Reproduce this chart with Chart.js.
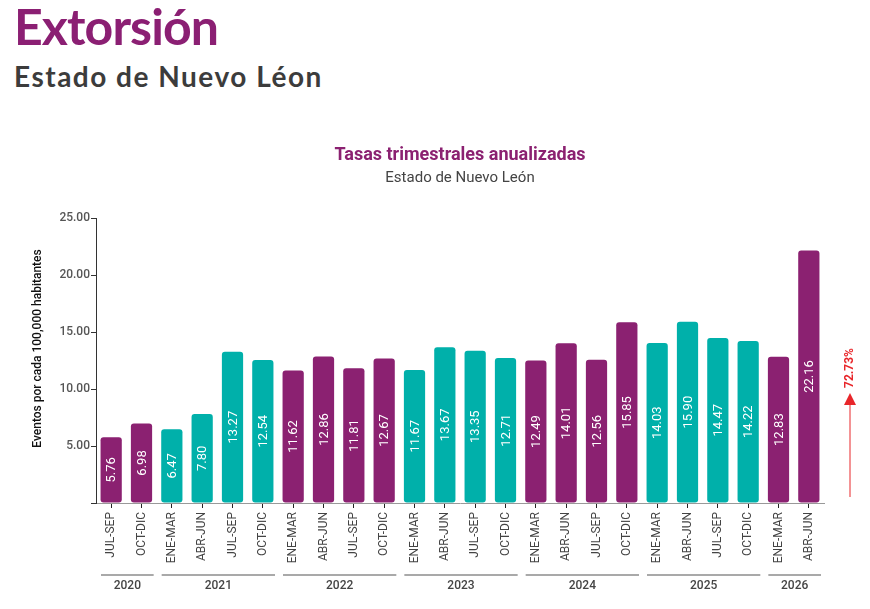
<!DOCTYPE html>
<html>
<head>
<meta charset="utf-8">
<script src="https://cdn.jsdelivr.net/npm/chart.js@4.4.1/dist/chart.umd.min.js"></script>
<style>
  html,body{margin:0;padding:0;background:#fff;width:870px;height:609px;overflow:hidden;}
  #title{position:absolute;left:14px;top:-4px;font-family:Lato,'DejaVu Sans',sans-serif;font-weight:bold;font-size:50px;color:#8b1f73;letter-spacing:-0.9px;}
  #subtitle{position:absolute;left:14px;top:59px;font-family:Lato,'DejaVu Sans',sans-serif;font-weight:bold;font-size:28px;color:#3c3c3c;letter-spacing:1.5px;}
  #wrap{position:absolute;left:0;top:130px;width:870px;height:479px;}
</style>
</head>
<body>
<div id="title">Extorsión</div>
<div id="subtitle">Estado de Nuevo Léon</div>
<div id="wrap"><canvas id="c"></canvas></div>
<script>
'use strict';

// ── DATA ───────────────────────────────────────────────
const quarters = ['JUL-SEP','OCT-DIC',
  'ENE-MAR','ABR-JUN','JUL-SEP','OCT-DIC',
  'ENE-MAR','ABR-JUN','JUL-SEP','OCT-DIC',
  'ENE-MAR','ABR-JUN','JUL-SEP','OCT-DIC',
  'ENE-MAR','ABR-JUN','JUL-SEP','OCT-DIC',
  'ENE-MAR','ABR-JUN','JUL-SEP','OCT-DIC',
  'ENE-MAR','ABR-JUN'];
const rates = [5.76, 6.98,
  6.47, 7.80, 13.27, 12.54,
  11.62, 12.86, 11.81, 12.67,
  11.67, 13.67, 13.35, 12.71,
  12.49, 14.01, 12.56, 15.85,
  14.03, 15.90, 14.47, 14.22,
  12.83, 22.16];
const years = ['2020','2021','2022','2023','2024','2025','2026'];
const quartersPerYear = [2, 4, 4, 4, 4, 4, 2];
const yTicks = [0, 5, 10, 15, 20, 25];
const changeLabel = '72.73%';

const PURPLE = '#8b2171';
const TEAL = '#00b0aa';
const FONT = "Roboto, 'Noto Sans', sans-serif";

// color by year (alternating)
const barColors = [];
quartersPerYear.forEach((n, yi) => {
  for (let i = 0; i < n; i++) barColors.push(yi % 2 === 0 ? PURPLE : TEAL);
});

// ── PLUGINS ────────────────────────────────────────────
// title + subtitle centered over the plot area
const headings = {
  id: 'headings',
  afterDraw(chart){
    const {ctx, chartArea} = chart;
    const cx = (chartArea.left + chartArea.right) / 2;
    ctx.save();
    ctx.textAlign = 'center';
    ctx.textBaseline = 'middle';
    ctx.fillStyle = PURPLE;
    ctx.font = `bold 18px ${FONT}`;
    ctx.fillText('Tasas trimestrales anualizadas', cx, 25);
    ctx.fillStyle = '#444';
    ctx.font = `15px ${FONT}`;
    ctx.fillText('Estado de Nuevo León', cx, 48);
    ctx.restore();
  }
};

const yTitle = {
  id: 'yTitle',
  afterDraw(chart){
    const {ctx, chartArea} = chart;
    ctx.save();
    ctx.translate(38, (chartArea.top + chartArea.bottom) / 2 - 12);
    ctx.rotate(-Math.PI / 2);
    ctx.fillStyle = '#111';
    ctx.font = `500 12px ${FONT}`;
    ctx.textAlign = 'center';
    ctx.textBaseline = 'middle';
    ctx.fillText('Eventos por cada 100,000 habitantes', 0, 0);
    ctx.restore();
  }
};

const valueLabels = {
  id: 'valueLabels',
  afterDatasetsDraw(chart){
    const {ctx} = chart;
    const meta = chart.getDatasetMeta(0);
    ctx.save();
    ctx.fillStyle = '#fff';
    ctx.font = `13px ${FONT}`;
    ctx.textAlign = 'center';
    ctx.textBaseline = 'middle';
    meta.data.forEach((bar, i) => {
      const mid = (bar.y + bar.base) / 2;
      ctx.save();
      ctx.translate(bar.x + 1, mid);
      ctx.rotate(-Math.PI / 2);
      ctx.fillText(rates[i].toFixed(2), 0, 0);
      ctx.restore();
    });
    ctx.restore();
  }
};

const yearGroups = {
  id: 'yearGroups',
  afterDraw(chart){
    const {ctx, scales:{x}} = chart;
    const half = (x.getPixelForValue(1) - x.getPixelForValue(0)) / 2;
    const lineY = chart.chartArea.bottom + 72;
    ctx.save();
    ctx.strokeStyle = '#555';
    ctx.lineWidth = 1.2;
    ctx.fillStyle = '#444';
    ctx.font = `500 12px ${FONT}`;
    ctx.textAlign = 'center';
    ctx.textBaseline = 'middle';
    let start = 0;
    years.forEach((yr, yi) => {
      const end = start + quartersPerYear[yi] - 1;
      const x0 = x.getPixelForValue(start) - half + 5;
      const x1 = x.getPixelForValue(end) + half - 3;
      ctx.beginPath();
      ctx.moveTo(x0, lineY);
      ctx.lineTo(x1, lineY);
      ctx.stroke();
      ctx.fillText(yr, (x0 + x1) / 2, lineY + 11);
      start = end + 1;
    });
    ctx.restore();
  }
};

const changeArrow = {
  id: 'changeArrow',
  afterDraw(chart){
    const {ctx, chartArea} = chart;
    const ax = chartArea.right + 26;
    const yBottom = chartArea.bottom - 6;
    const yTop = chartArea.bottom - 110;
    ctx.save();
    ctx.strokeStyle = '#e8262a';
    ctx.fillStyle = '#e8262a';
    ctx.lineWidth = 1;
    ctx.beginPath();
    ctx.moveTo(ax, yBottom);
    ctx.lineTo(ax, yTop + 10);
    ctx.stroke();
    ctx.beginPath();
    ctx.moveTo(ax, yTop);
    ctx.lineTo(ax - 6, yTop + 12);
    ctx.lineTo(ax + 6, yTop + 12);
    ctx.closePath();
    ctx.fill();
    ctx.translate(ax, yTop - 25);
    ctx.rotate(-Math.PI / 2);
    ctx.font = `bold 12px ${FONT}`;
    ctx.textAlign = 'center';
    ctx.textBaseline = 'middle';
    ctx.fillText(changeLabel, 0, 0);
    ctx.restore();
  }
};

// ── CHART ──────────────────────────────────────────────
new Chart(document.getElementById('c').getContext('2d'), {
  type: 'bar',
  data: {
    labels: quarters,
    datasets: [{
      data: rates,
      backgroundColor: barColors,
      borderRadius: 3,
      borderSkipped: false,
      categoryPercentage: 1,
      barPercentage: 0.7
    }]
  },
  options: {
    responsive: true,
    maintainAspectRatio: false,
    animation: false,
    layout: { padding: { left: 0, right: 46, top: 88, bottom: 36 } },
    plugins: {
      legend: { display: false },
      tooltip: { enabled: false }
    },
    scales: {
      x: {
        offset: true,
        grid: { offset: false, drawOnChartArea: false, drawTicks: true, tickLength: 5, color: '#222' },
        border: { display: true, color: '#999' },
        ticks: {
          color: '#444', font: { family: FONT, size: 12 },
          maxRotation: 90, minRotation: 90, autoSkip: false, padding: 4
        },
        afterFit(scale){ scale.height = 70; }
      },
      y: {
        min: 0, max: 25,
        afterBuildTicks(scale){ scale.ticks = yTicks.map(v => ({ value: v })); },
        grid: { drawOnChartArea: false, drawTicks: true, tickLength: 5, color: '#333' },
        border: { display: true, color: '#333' },
        ticks: {
          color: '#555', font: { family: FONT, size: 12, weight: '500' }, padding: 1,
          callback: v => v === 0 ? '' : Number(v).toFixed(2)
        },
        afterFit(scale){ scale.width = 96; }
      }
    }
  },
  plugins: [headings, yTitle, valueLabels, yearGroups, changeArrow]
});
</script>
</body>
</html>
